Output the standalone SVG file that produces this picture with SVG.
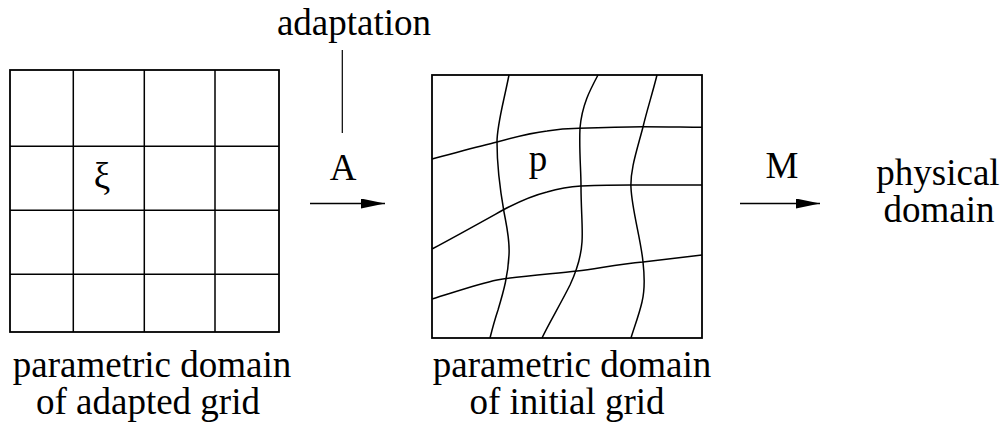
<svg xmlns="http://www.w3.org/2000/svg" width="1007" height="425" viewBox="0 0 1007 425">
<defs>
<marker id="ah" markerWidth="24" markerHeight="10" refX="24" refY="5" orient="auto" markerUnits="userSpaceOnUse">
<path d="M0,0 L24,5 L0,10 Z" fill="#000"/>
</marker>
</defs>
<rect width="1007" height="425" fill="#fff"/>
<g id="adapted-grid">
<rect x="10" y="70" width="269" height="262" fill="none" stroke="#000" stroke-width="1.8"/>
<path d="M73.3,70 V332 M144.3,70 V332 M215,70 V332 M10,146.3 H279 M10,210.3 H279 M10,274.3 H279" fill="none" stroke="#000" stroke-width="1.5"/>
<text x="102" y="189" text-anchor="middle" font-family="Liberation Serif" font-size="37" style="font-family:'Liberation Serif',serif">ξ</text>
<text x="152" y="377" text-anchor="middle" font-family="Liberation Serif" font-size="37" style="font-family:'Liberation Serif',serif">parametric domain</text>
<text x="148" y="414" text-anchor="middle" font-family="Liberation Serif" font-size="37" style="font-family:'Liberation Serif',serif">of adapted grid</text>
</g>
<g id="initial-grid" fill="none" stroke="#000" stroke-width="1.5">
<rect x="432" y="75" width="270" height="263" stroke-width="1.8"/>
<path d="M509,75 C503,105 497,125 497,142 C497,170 501,195 504,212 C507,228 510,240 509,255 C508,275 504,290 498,310 C494,322 492,330 490,338"/>
<path d="M598,75 C590,90 582,105 580,128 C579,150 581,170 581,186 C581,210 583,228 582,242 C581,258 577,270 570,285 C560,305 548,325 542,338"/>
<path d="M657,75 C652,95 647,110 643,127 C637,150 630,170 631,188 C632,210 641,240 643,262 C645,280 645,290 642,302 C639,315 634,328 631,338"/>
<path d="M432,159 C455,153 480,146 497,142 C515,137 530,133 547,131 C560,129 570,128.5 579,128.3 C600,127.5 620,126.8 643,126.7 C665,126.7 685,127.2 702,127.3"/>
<path d="M432,249 C460,234 485,220 503,210 C520,201 535,195 547,192 C560,188 570,186.5 581,186 C600,185.3 615,185 631,185 C660,185 685,185 702,185"/>
<path d="M432,299 C455,292 478,284 497,280 C520,276 550,274 577,271 C600,268 620,264 643,262 C665,259.5 685,257 702,255"/>
<text x="538" y="171" text-anchor="middle" fill="#000" stroke="none" font-family="Liberation Serif" font-size="37" style="font-family:'Liberation Serif',serif">p</text>
<text x="572" y="377" text-anchor="middle" fill="#000" stroke="none" font-family="Liberation Serif" font-size="37" style="font-family:'Liberation Serif',serif">parametric domain</text>
<text x="567" y="414" text-anchor="middle" fill="#000" stroke="none" font-family="Liberation Serif" font-size="37" style="font-family:'Liberation Serif',serif">of initial grid</text>
</g>
<g id="adaptation-label">
<text x="354" y="35" text-anchor="middle" font-family="Liberation Serif" font-size="37" style="font-family:'Liberation Serif',serif">adaptation</text>
</g>
<g id="physical-domain">
<text x="938" y="185" text-anchor="middle" font-family="Liberation Serif" font-size="37" style="font-family:'Liberation Serif',serif">physical</text>
<text x="939" y="222" text-anchor="middle" font-family="Liberation Serif" font-size="37" style="font-family:'Liberation Serif',serif">domain</text>
</g>
<g id="connectors">
<line x1="342.3" y1="50" x2="342.3" y2="133" stroke="#000" stroke-width="1.2"/>
<text x="343" y="180" text-anchor="middle" font-family="Liberation Serif" font-size="37" style="font-family:'Liberation Serif',serif">A</text>
<line x1="310" y1="203.5" x2="385" y2="203.5" stroke="#000" stroke-width="1.5" marker-end="url(#ah)"/>
<text x="782" y="178" text-anchor="middle" font-family="Liberation Serif" font-size="37" style="font-family:'Liberation Serif',serif">M</text>
<line x1="740" y1="203.5" x2="820" y2="203.5" stroke="#000" stroke-width="1.5" marker-end="url(#ah)"/>
</g>
</svg>
